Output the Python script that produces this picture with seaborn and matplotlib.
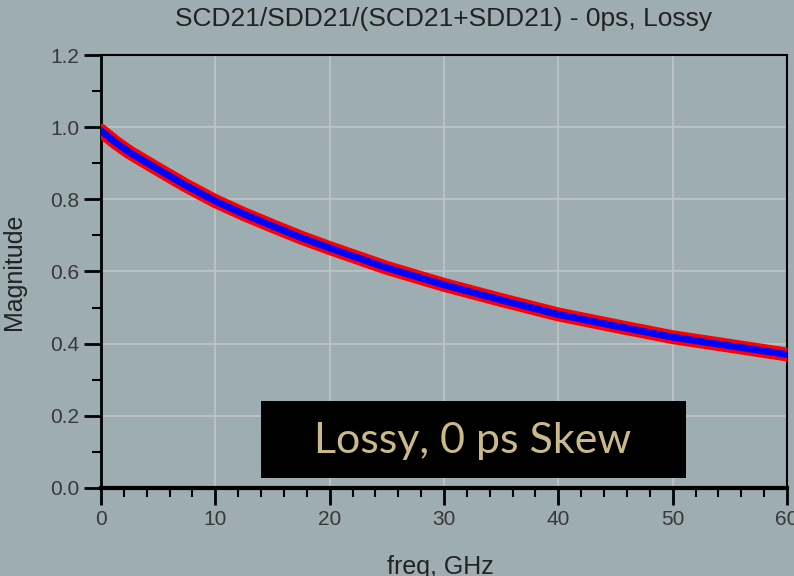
import pandas as pd
import seaborn as sns
import matplotlib.pyplot as plt
from matplotlib.ticker import MultipleLocator
from matplotlib.patches import Rectangle

# values
freq_ghz = [0, 1.25, 2.5, 5, 7.5, 10, 12.5, 15, 17.5, 20, 25, 30, 35, 40, 45, 50, 55, 60]
magnitude = [0.99, 0.958, 0.93, 0.883, 0.837, 0.795, 0.759, 0.726, 0.694, 0.665,
             0.61, 0.563, 0.521, 0.481, 0.449, 0.418, 0.394, 0.37]

title = 'SCD21/SDD21/(SCD21+SDD21) - 0ps, Lossy'
banner = 'Lossy, 0 ps Skew'

data = pd.DataFrame({'freq': freq_ghz, 'mag': magnitude})

bg = '#9dadb2'
sns.set_style('ticks')
plt.rcParams['font.family'] = ['Liberation Sans', 'DejaVu Sans']

fig = plt.figure(figsize=(7.94, 5.76), dpi=100, facecolor=bg)
ax = fig.add_axes([0.1272, 0.1528, 0.864, 0.7517])
ax.set_facecolor(bg)

sns.lineplot(data=data, x='freq', y='mag', ax=ax, color='#ff0000', linewidth=10, zorder=3)
sns.lineplot(data=data, x='freq', y='mag', ax=ax, color='#0000ff', linewidth=5, zorder=4)

ax.set_xlim(0, 60)
ax.set_ylim(0, 1.2)
ax.xaxis.set_major_locator(MultipleLocator(10))
ax.xaxis.set_minor_locator(MultipleLocator(2))
ax.yaxis.set_major_locator(MultipleLocator(0.2))
ax.yaxis.set_minor_locator(MultipleLocator(0.1))
ax.yaxis.set_major_formatter(plt.FormatStrFormatter('%.1f'))
ax.grid(True, which='major', color='#c0c4c5', linewidth=1.2)

ax.tick_params(which='major', direction='out', length=12.5, width=2, color='black',
               labelsize=15, labelcolor='#383838', pad=3)
ax.tick_params(which='minor', direction='out', length=6.5, width=1.5, color='black')
for side in ['top', 'right']:
    ax.spines[side].set_linewidth(1.5)
ax.spines['left'].set_linewidth(2)
ax.spines['bottom'].set_linewidth(3)
for side in ax.spines:
    ax.spines[side].set_color('black')

ax.set_title(title, fontsize=19, color='#222222', pad=21)
ax.set_xlabel('')
ax.set_ylabel('Magnitude', fontsize=18, color='#222222')
ax.yaxis.set_label_coords(-0.11, 0.5)
fig.text(440 / 794, 0.004, 'freq, GHz', fontsize=18, color='#222222',
         ha='center', va='baseline')

# black banner with label
fig.patches.append(Rectangle((261 / 794, 1 - 478 / 576), 425 / 794, 77 / 576,
                             transform=fig.transFigure, facecolor='black',
                             edgecolor='none', zorder=10))
fig.text(473 / 794, 1 - 441 / 576, banner, fontsize=31, color='#cbb98a',
         family=['Lato', 'DejaVu Sans'], ha='center', va='center', zorder=11)

fig.savefig('out.png', dpi=100, facecolor=bg)
